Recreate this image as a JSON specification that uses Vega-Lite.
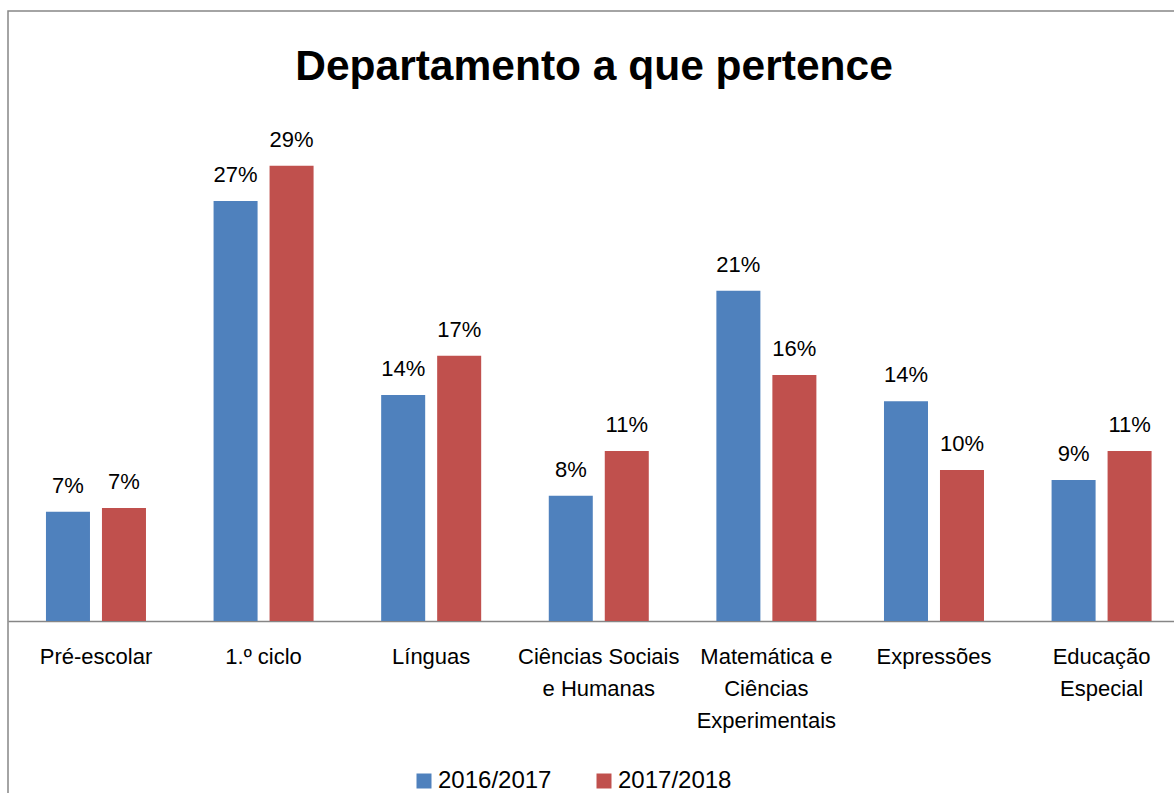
{
  "$schema": "https://vega.github.io/schema/vega-lite/v6.json",
  "autosize": {"type": "none"},
  "width": 1172,
  "height": 788,
  "padding": {"left": 8, "top": 11, "right": -6, "bottom": -6},
  "background": "white",
  "config": {
    "font": "Liberation Sans",
    "view": {"stroke": "#878787", "strokeWidth": 1.5}
  },
  "title": {
    "text": "Departamento a que pertence",
    "fontSize": 42.5,
    "fontWeight": "bold",
    "color": "black",
    "anchor": "middle",
    "frame": "group",
    "orient": "top",
    "baseline": "alphabetic",
    "offset": -111
  },
  "data": {
    "values": [
      {"dept": "Pré-escolar", "year": "2016/2017", "value": 0.0696},
      {"dept": "Pré-escolar", "year": "2017/2018", "value": 0.0720},
      {"dept": "1.º ciclo", "year": "2016/2017", "value": 0.2675},
      {"dept": "1.º ciclo", "year": "2017/2018", "value": 0.2900},
      {"dept": "Línguas", "year": "2016/2017", "value": 0.1439},
      {"dept": "Línguas", "year": "2017/2018", "value": 0.1690},
      {"dept": "Ciências Sociais e Humanas", "year": "2016/2017", "value": 0.0798},
      {"dept": "Ciências Sociais e Humanas", "year": "2017/2018", "value": 0.1083},
      {"dept": "Matemática e Ciências Experimentais", "year": "2016/2017", "value": 0.2104},
      {"dept": "Matemática e Ciências Experimentais", "year": "2017/2018", "value": 0.1567},
      {"dept": "Expressões", "year": "2016/2017", "value": 0.1399},
      {"dept": "Expressões", "year": "2017/2018", "value": 0.0962},
      {"dept": "Educação Especial", "year": "2016/2017", "value": 0.0898},
      {"dept": "Educação Especial", "year": "2017/2018", "value": 0.1083}
    ]
  },
  "encoding": {
    "x": {
      "field": "dept",
      "type": "nominal",
      "sort": ["Pré-escolar", "1.º ciclo", "Línguas", "Ciências Sociais e Humanas", "Matemática e Ciências Experimentais", "Expressões", "Educação Especial"],
      "scale": {"paddingInner": 0.4033, "paddingOuter": 0.198, "align": 0.572},
      "axis": {
        "title": null,
        "orient": "bottom",
        "offset": -178,
        "ticks": false,
        "tickSize": 0,
        "grid": false,
        "domainColor": "#868686",
        "domainWidth": 1.5,
        "labelAngle": 0,
        "labelFontSize": 22,
        "labelColor": "black",
        "labelPadding": 25,
        "labelLineHeight": 32,
        "labelLimit": 0,
        "labelOverlap": false,
        "labelBaseline": "top",
        "labelExpr": "datum.label == 'Ciências Sociais e Humanas' ? ['Ciências Sociais', 'e Humanas'] : datum.label == 'Matemática e Ciências Experimentais' ? ['Matemática e', 'Ciências', 'Experimentais'] : datum.label == 'Educação Especial' ? ['Educação', 'Especial'] : datum.label"
      }
    },
    "xOffset": {
      "field": "year",
      "type": "nominal",
      "scale": {"paddingInner": 0.214, "paddingOuter": 0}
    },
    "y": {
      "field": "value",
      "type": "quantitative",
      "scale": {"domain": [-0.11338, 0.38854], "nice": false, "zero": false},
      "axis": null
    }
  },
  "layer": [
    {
      "mark": {"type": "bar", "clip": false},
      "encoding": {
        "y2": {"datum": 0},
        "color": {
          "field": "year",
          "type": "nominal",
          "scale": {"domain": ["2016/2017", "2017/2018"], "range": ["#4F81BD", "#C0504D"]},
          "legend": {
            "title": null,
            "orient": "none",
            "direction": "horizontal",
            "legendX": 404,
            "legendY": 758,
            "padding": 0,
            "symbolType": "square",
            "symbolSize": 225,
            "symbolStrokeWidth": 0,
            "labelFontSize": 24,
            "labelColor": "black",
            "labelOffset": 2,
            "columnPadding": 40,
            "labelLimit": 0
          }
        }
      }
    },
    {
      "mark": {"type": "text", "baseline": "alphabetic", "dy": -19, "fontSize": 22, "color": "black"},
      "encoding": {
        "text": {"field": "value", "type": "quantitative", "format": ".0%"}
      }
    }
  ]
}
